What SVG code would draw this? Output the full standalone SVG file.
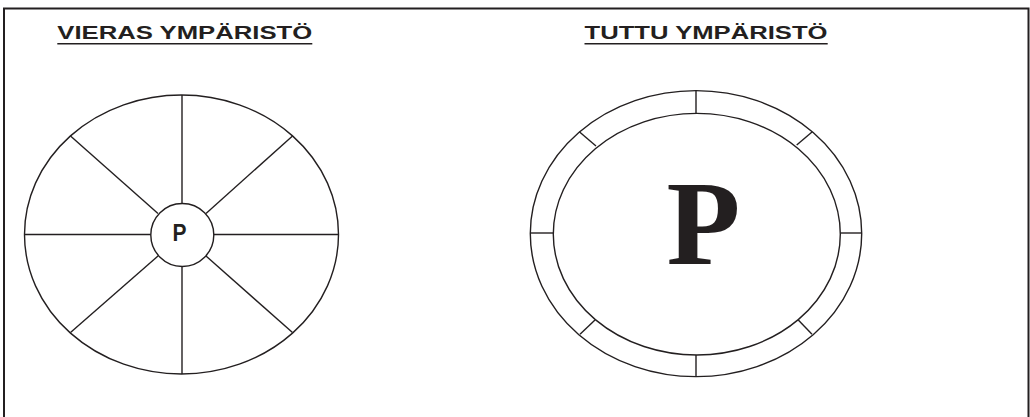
<svg xmlns="http://www.w3.org/2000/svg" width="1030" height="417" viewBox="0 0 1030 417">
<style>
.ln{fill:none;stroke:#231f20;stroke-width:1.4}
.title{font-family:"Liberation Sans",Arial,sans-serif;font-weight:bold;font-size:19px;fill:#231f20}
.ul{stroke:#231f20;stroke-width:1.6}
</style>
<rect width="1030" height="417" fill="#fff"/>
<rect x="4" y="8.5" width="1024.5" height="430" fill="none" stroke="#231f20" stroke-width="2"/>
<g id="title-vieras">
<text class="title" x="57.3" y="38.5" textLength="255" lengthAdjust="spacingAndGlyphs">VIERAS YMPÄRISTÖ</text>
<line class="ul" x1="57.3" y1="43.8" x2="312.3" y2="43.8"/>
</g>
<g id="title-tuttu">
<text class="title" x="584.5" y="38.5" textLength="243" lengthAdjust="spacingAndGlyphs">TUTTU YMPÄRISTÖ</text>
<line class="ul" x1="584.5" y1="43.8" x2="827.7" y2="43.8"/>
</g>
<g id="vieras">
<ellipse class="ln" cx="181.5" cy="234.5" rx="157" ry="139.5"/>
<circle class="ln" cx="182.3" cy="235" r="31.5"/>
<text x="179.5" y="241" font-family="'Liberation Sans',Arial,sans-serif" font-weight="bold" font-size="21" text-anchor="middle" fill="#231f20" transform="translate(179.5 241) scale(1 1.12) translate(-179.5 -241)">P</text>
</g>
<g id="connectors">
<line class="ln" x1="182" y1="95" x2="182" y2="203.5"/>
<line class="ln" x1="182" y1="266.5" x2="182" y2="374"/>
<line class="ln" x1="24.5" y1="234.5" x2="150.8" y2="234.5"/>
<line class="ln" x1="213.8" y1="234.5" x2="338.5" y2="234.5"/>
<line class="ln" x1="70.5" y1="135.9" x2="158" y2="213.5"/>
<line class="ln" x1="292.5" y1="135.9" x2="206" y2="213.5"/>
<line class="ln" x1="70.5" y1="332.5" x2="158" y2="256"/>
<line class="ln" x1="292.5" y1="332.5" x2="206" y2="256"/>
<line class="ln" x1="696" y1="90.5" x2="696" y2="113.5"/>
<line class="ln" x1="696" y1="355" x2="696" y2="377"/>
<line class="ln" x1="530.3" y1="233" x2="553.3" y2="233"/>
<line class="ln" x1="840.3" y1="233" x2="861.7" y2="233"/>
<line class="ln" x1="579.3" y1="131.7" x2="596" y2="146"/>
<line class="ln" x1="812.3" y1="131.7" x2="796.7" y2="145"/>
<line class="ln" x1="580" y1="334.3" x2="595" y2="320"/>
<line class="ln" x1="812" y1="334.3" x2="798.3" y2="320"/>
</g>
<g id="tuttu">
<ellipse class="ln" cx="696" cy="233.6" rx="165.7" ry="143"/>
<ellipse class="ln" cx="696.8" cy="234.2" rx="143.5" ry="120.8"/>
<text x="703.5" y="264" font-family="'Liberation Serif','Times New Roman',serif" font-weight="bold" font-size="121" text-anchor="middle" fill="#231f20">P</text>
</g>
</svg>
